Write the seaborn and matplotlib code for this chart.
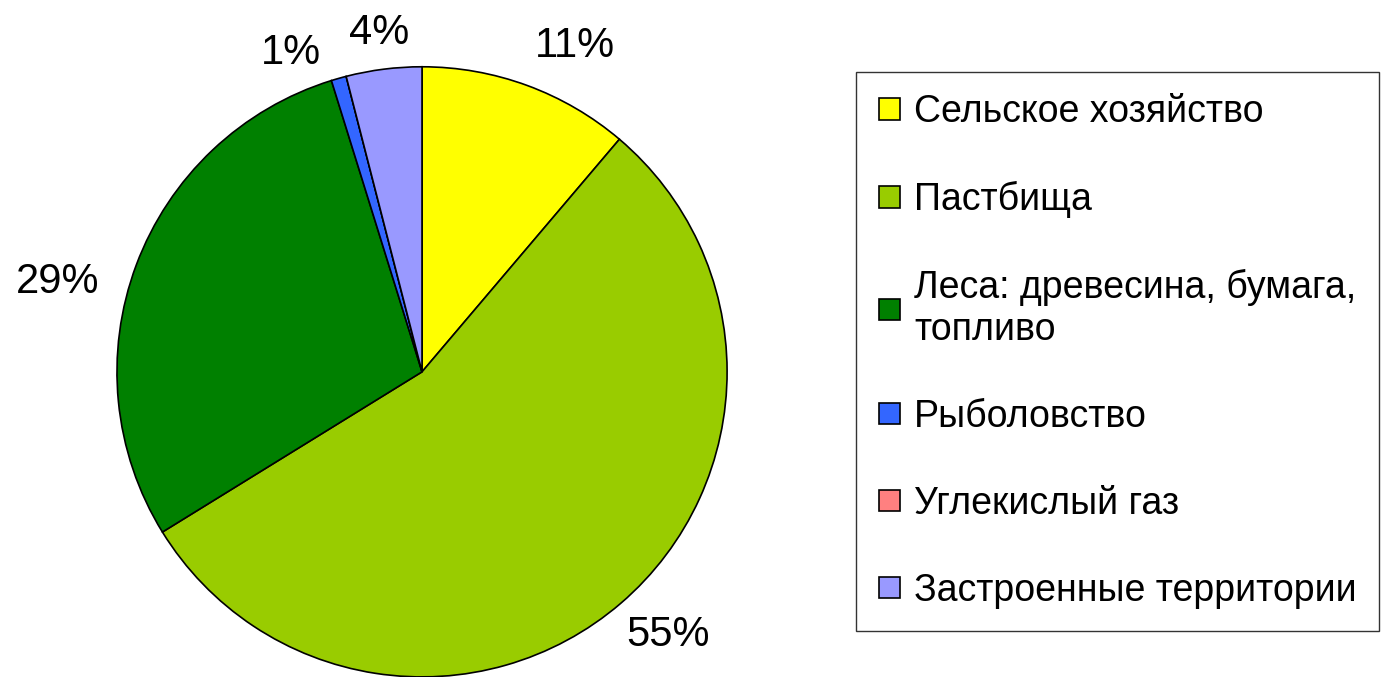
import matplotlib
matplotlib.use("Agg")
import matplotlib.pyplot as plt
import seaborn as sns
import numpy as np

sns.set_theme(style="white")
plt.rcParams['font.family'] = ['Liberation Sans', 'DejaVu Sans']
plt.rcParams['text.color'] = 'black'

# данные
categories = [
    'Сельское хозяйство',
    'Пастбища',
    'Леса: древесина, бумага,\nтопливо',
    'Рыболовство',
    'Углекислый газ',
    'Застроенные территории',
]
shares = [11.2, 55.0, 29.0, 0.8, 0.0, 4.0]
colors = ['#FFFF00', '#99CC00', '#008000', '#3366FF', '#FF8080', '#9999FF']

# размещение подписей: радиус и сдвиг угла (градусы) относительно середины сектора
label_r = [1.18, 1.18, 1.23, 1.13, 1.0, 1.12]
label_dang = [5.0, -2.4, -6.7, -6.5, 0.0, 0.0]


def pct_label(p):
    return f'{p:.0f}%' if p > 0.05 else ''


fig = plt.figure(figsize=(13.81, 6.77), dpi=100)
ax = fig.add_axes([0.0847, 0.0, 0.4418, 0.9015])

wedges, texts, autotexts = ax.pie(
    shares,
    colors=colors,
    startangle=90,
    counterclock=False,
    autopct=pct_label,
    pctdistance=1.19,
    wedgeprops={'edgecolor': 'black', 'linewidth': 1.2},
    textprops={'fontsize': 30, 'color': 'black'},
)

# подвинуть подписи процентов
for w, t, r, da in zip(wedges, autotexts, label_r, label_dang):
    mid = np.deg2rad((w.theta1 + w.theta2) / 2 - da)
    t.set_position((r * np.cos(mid), r * np.sin(mid)))

ax.set_xlim(-1, 1)
ax.set_ylim(-1, 1)
ax.set_aspect('equal')
ax.axis('off')

leg = fig.legend(
    wedges, categories,
    loc='upper left',
    bbox_to_anchor=(0.62, 0.894),
    borderaxespad=0,
    fontsize=27,
    frameon=True,
    fancybox=False,
    shadow=False,
    handlelength=0.58,
    handleheight=0.5,
    handletextpad=0.37,
    labelspacing=1.36,
    borderpad=0.6,
    labelcolor='black',
)
leg.get_frame().set_edgecolor('black')
leg.get_frame().set_linewidth(1.0)

plt.savefig('out.png', dpi=100)
